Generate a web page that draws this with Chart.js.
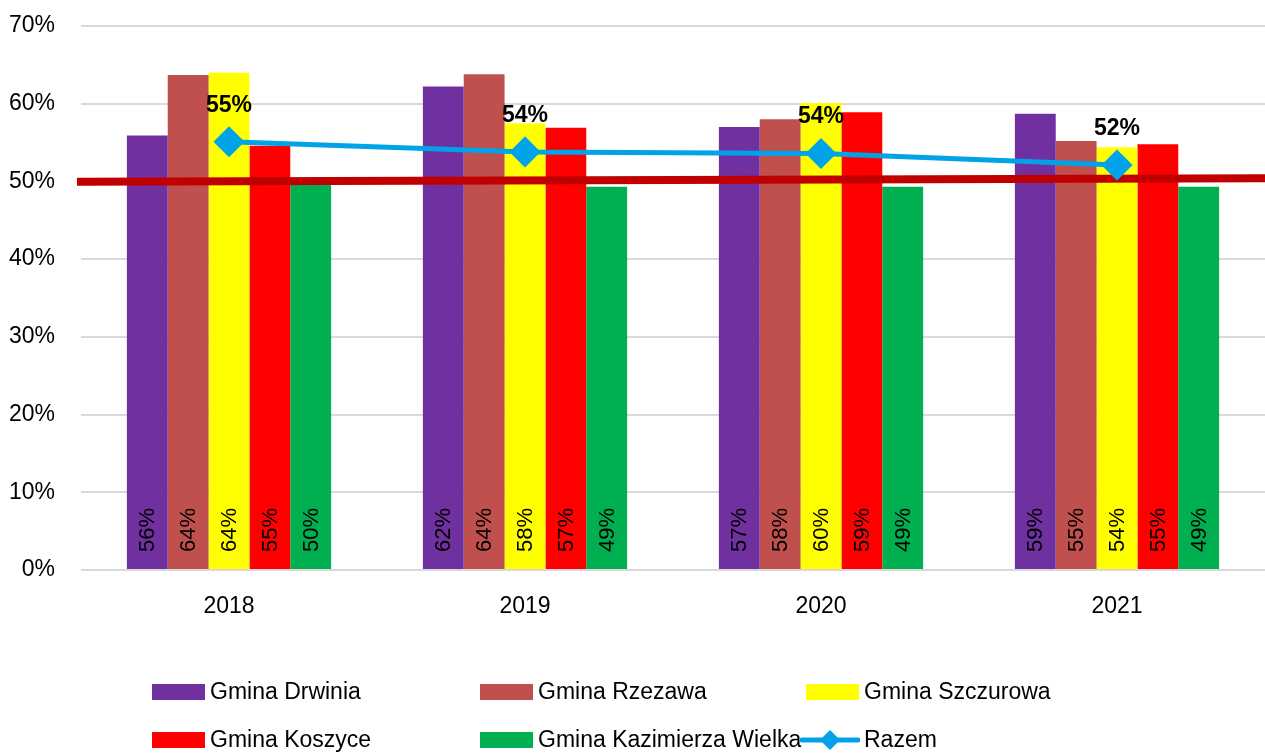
<!DOCTYPE html>
<html>
<head>
<meta charset="utf-8">
<script src="https://cdn.jsdelivr.net/npm/chart.js@4.4.0/dist/chart.umd.min.js"></script>
<style>
  html, body { margin: 0; padding: 0; background: #fff; overflow: hidden; }
  #wrap { position: relative; width: 1265px; height: 754px; overflow: hidden; }
  #chart { display: block; }
  .lg { position: absolute; display: flex; align-items: center; font-family: 'Liberation Sans', Arial, sans-serif; font-size: 23px; color: #000; white-space: nowrap; }
  .lg .box { width: 53px; height: 16px; margin-right: 5px; }
  .lg svg { margin-right: 4px; }
</style>
</head>
<body>
<div id="wrap">
  <canvas id="chart" width="1265" height="754"></canvas>
  <div id="legend"></div>
</div>
<script>
const years = ['2018', '2019', '2020', '2021'];
const drwinia = [55.9, 62.2, 57.0, 58.7];
const rzezawa = [63.7, 63.8, 58.0, 55.2];
const szczurowa = [64.0, 57.5, 60.1, 54.4];
const koszyce = [54.6, 56.9, 58.9, 54.8];
const kazimierza = [50.4, 49.3, 49.3, 49.3];
const razem = [55.1, 53.8, 53.6, 52.1];
const prog = [49.95, 50.4]; // dark red reference line, left end / right end
const yTicks = [0, 10, 20, 30, 40, 50, 60, 70];

const FONT = "'Liberation Sans', Arial, sans-serif";

const barSeries = [
  { label: 'Gmina Drwinia', data: drwinia, color: '#7030A0' },
  { label: 'Gmina Rzezawa', data: rzezawa, color: '#C0504D' },
  { label: 'Gmina Szczurowa', data: szczurowa, color: '#FFFF00' },
  { label: 'Gmina Koszyce', data: koszyce, color: '#FF0000' },
  { label: 'Gmina Kazimierza Wielka', data: kazimierza, color: '#00B050' }
];

// red 50% line: drawn over the bars, under the Razem line
const progPlugin = {
  id: 'prog',
  beforeDatasetDraw(chart, args) {
    if (chart.data.datasets[args.index].label !== 'Razem') return;
    const ctx = chart.ctx;
    const area = chart.chartArea;
    const y = chart.scales.y;
    ctx.save();
    ctx.strokeStyle = '#C00000';
    ctx.lineWidth = 8;
    ctx.beginPath();
    ctx.moveTo(area.left - 4, y.getPixelForValue(prog[0]));
    ctx.lineTo(chart.width, y.getPixelForValue(prog[1]));
    ctx.stroke();
    ctx.restore();
  }
};

// labels inside bars (rotated) + bold labels over the Razem line
const labelPlugin = {
  id: 'labels',
  afterDatasetsDraw(chart) {
    const ctx = chart.ctx;
    chart.data.datasets.forEach((ds, di) => {
      const meta = chart.getDatasetMeta(di);
      if (ds.type === 'bar') {
        meta.data.forEach((bar, i) => {
          ctx.save();
          ctx.translate(bar.x + 1, bar.base - 17);
          ctx.rotate(-Math.PI / 2);
          ctx.font = '22px ' + FONT;
          ctx.fillStyle = '#000';
          ctx.textAlign = 'left';
          ctx.textBaseline = 'middle';
          ctx.fillText(Math.round(ds.data[i]) + '%', 0, 0);
          ctx.restore();
        });
      } else if (ds.label === 'Razem') {
        meta.data.forEach((pt, i) => {
          ctx.save();
          ctx.font = 'bold 23px ' + FONT;
          ctx.fillStyle = '#000';
          ctx.textAlign = 'center';
          ctx.textBaseline = 'alphabetic';
          ctx.fillText(Math.round(ds.data[i]) + '%', pt.x, pt.y - 30);
          ctx.restore();
        });
      }
    });
  }
};

const datasets = barSeries.map(s => ({
  type: 'bar',
  label: s.label,
  data: s.data,
  backgroundColor: s.color,
  order: 3,
  barPercentage: 1.0,
  categoryPercentage: 0.69
}));

datasets.push({
  type: 'line',
  label: 'Razem',
  data: razem,
  borderColor: '#00A2E8',
  backgroundColor: '#00A2E8',
  borderWidth: 5,
  pointStyle: 'rectRot',
  pointRadius: 12,
  pointHoverRadius: 12,
  tension: 0,
  order: 0
});

new Chart(document.getElementById('chart').getContext('2d'), {
  type: 'bar',
  data: { labels: years, datasets: datasets },
  options: {
    responsive: false,
    animation: false,
    layout: { autoPadding: false, padding: { top: 26, right: 0, left: 0, bottom: 104 } },
    plugins: {
      legend: { display: false },
      tooltip: { enabled: false }
    },
    scales: {
      x: {
        grid: { display: false },
        border: { display: false },
        ticks: { color: '#000', font: { family: FONT, size: 23 }, padding: 15 },
        afterFit(scale) { scale.height = 80; }
      },
      y: {
        min: 0,
        max: 70,
        afterBuildTicks(scale) { scale.ticks = yTicks.map(v => ({ value: v })); },
        grid: { color: '#D9D9D9', lineWidth: 2, drawTicks: false },
        border: { display: false },
        ticks: { color: '#000', font: { family: FONT, size: 23 }, padding: 26, callback: v => v + '%' },
        afterFit(scale) { scale.width = 81; scale.paddingTop = 0; scale.paddingBottom = 0; }
      }
    }
  },
  plugins: [progPlugin, labelPlugin]
});

// legend (3 columns x 2 rows like the original)
const legendPos = [[152, 692], [480, 692], [806, 692], [152, 740], [480, 740]];
const legendEl = document.getElementById('legend');
barSeries.forEach((s, i) => {
  const d = document.createElement('div');
  d.className = 'lg';
  d.style.left = legendPos[i][0] + 'px';
  d.style.top = (legendPos[i][1] - 14) + 'px';
  d.innerHTML = '<span class="box" style="background:' + s.color + '"></span>' + s.label;
  legendEl.appendChild(d);
});
const r = document.createElement('div');
r.className = 'lg';
r.style.left = '800px';
r.style.top = (740 - 14) + 'px';
r.innerHTML = '<svg width="60" height="26"><line x1="2" y1="13" x2="58" y2="13" stroke="#00A2E8" stroke-width="5" stroke-linecap="round"/><polygon points="30,3 40,13 30,23 20,13" fill="#00A2E8"/></svg>Razem';
legendEl.appendChild(r);
</script>
</body>
</html>
